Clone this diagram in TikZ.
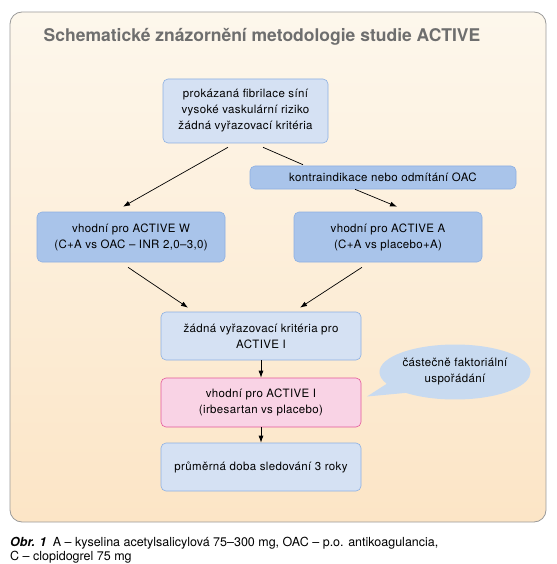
\documentclass[tikz,border=0pt]{standalone}
\usepackage{fontspec}
\setmainfont{TeX Gyre Heros}
\newfontfamily\boxfont[LetterSpace=3]{TeX Gyre Heros}
\usetikzlibrary{arrows.meta,shapes.geometric,shapes.callouts}
\definecolor{frame}{HTML}{9A9A9A}
\definecolor{bgtop}{HTML}{FDF7EC}
\definecolor{bgbot}{HTML}{FCE5C6}
\definecolor{ltblue}{HTML}{D5E1F3}
\definecolor{mdblue}{HTML}{A9C4EA}
\definecolor{bdblue}{HTML}{8DB0E2}
\definecolor{pinkfill}{HTML}{F9D3E5}
\definecolor{pinkline}{HTML}{E4579A}
\definecolor{bubble}{HTML}{C8DAF0}
\definecolor{titlegray}{HTML}{6E6E6E}
\begin{document}
\begin{tikzpicture}[x=1pt, y=-1pt, >={Latex[length=7pt,width=5pt]},
      box/.style={draw=bdblue, line width=0.6pt, rounded corners=5pt, align=center, inner sep=2pt,
                  font=\boxfont\fontsize{11.5}{16}\selectfont},
      lbox/.style={box, fill=ltblue},
      mbox/.style={box, fill=mdblue},
      pbox/.style={box, fill=pinkfill, draw=pinkline},
      arr/.style={->, line width=0.7pt}]
    \useasboundingbox (0,0) rectangle (556,564);
    % frame with gradient
    \draw[frame, line width=0.8pt, rounded corners=12pt, top color=bgtop, bottom color=bgbot]
      (10,12) rectangle (546,522);
    \node[font=\fontsize{17.5}{20}\selectfont\bfseries, text=titlegray] (title) at (262,37)
      {Schematické znázornění metodologie studie ACTIVE};
    % boxes
    \node[lbox, minimum width=165pt, minimum height=64pt] (top) at (245.5,111)
      {prokázaná fibrilace síní\\vysoké vaskulární riziko\\žádná vyřazovací kritéria};
    \node[mbox, minimum width=266pt, minimum height=23pt] (oac) at (383,177.5)
      {kontraindikace nebo odmítání OAC};
    \node[mbox, minimum width=188pt, minimum height=50pt] (actw) at (131,237)
      {vhodní pro ACTIVE W\\(C+A vs OAC – INR 2,0–3,0)};
    \node[mbox, minimum width=188pt, minimum height=50pt] (acta) at (388,237)
      {vhodní pro ACTIVE A\\(C+A vs placebo+A)};
    \node[lbox, minimum width=200pt, minimum height=48pt] (crit) at (261,336)
      {žádná vyřazovací kritéria pro\\ACTIVE I};
    \node[pbox, minimum width=200pt, minimum height=49pt] (acti) at (261,402.5)
      {vhodní pro ACTIVE I\\(irbesartan vs placebo)};
    \node[lbox, minimum width=200pt, minimum height=48pt] (follow) at (261,467)
      {průměrná doba sledování 3 roky};
    % callout
    \coordinate (tip) at (367,396.5);
    \node[ellipse callout, fill=bubble, minimum width=136pt, minimum height=55pt, align=center,
          callout absolute pointer={(tip)}, callout pointer arc=24, inner sep=1pt,
          font=\boxfont\fontsize{11.5}{16}\selectfont] (fact) at (455,372)
      {částečně faktoriální\\uspořádání};
    % arrows
    \draw[arr] ([xshift=-17.5pt,yshift=-4pt]top.south) -- ([xshift=-8pt,yshift=5pt]actw.north);
    \draw[line width=0.7pt] ([xshift=17.5pt,yshift=-4pt]top.south) -- ([xshift=-80pt,yshift=1pt]oac.north);
    \draw[arr] ([xshift=-28pt]oac.south) -- ([xshift=9pt,yshift=5pt]acta.north);
    \draw[arr] ([xshift=-3pt,yshift=-5pt]actw.south) -- ([xshift=-73pt,yshift=4pt]crit.north);
    \draw[arr] ([xshift=-26pt,yshift=-5pt]acta.south) -- ([xshift=39pt,yshift=4pt]crit.north);
    \draw[arr] (crit) -- (acti);
    \draw[arr] (acti) -- (follow);
    % caption
    \node[anchor=base west, align=left, inner sep=0pt, font=\fontsize{12.5}{14}\selectfont] (cap) at (10,560)
      {\textbf{\textit{Obr. 1}}\enspace A – kyselina acetylsalicylová 75–300 mg, OAC – p.o. antikoagulancia,\\C – clopidogrel 75 mg};
\end{tikzpicture}
\end{document}
